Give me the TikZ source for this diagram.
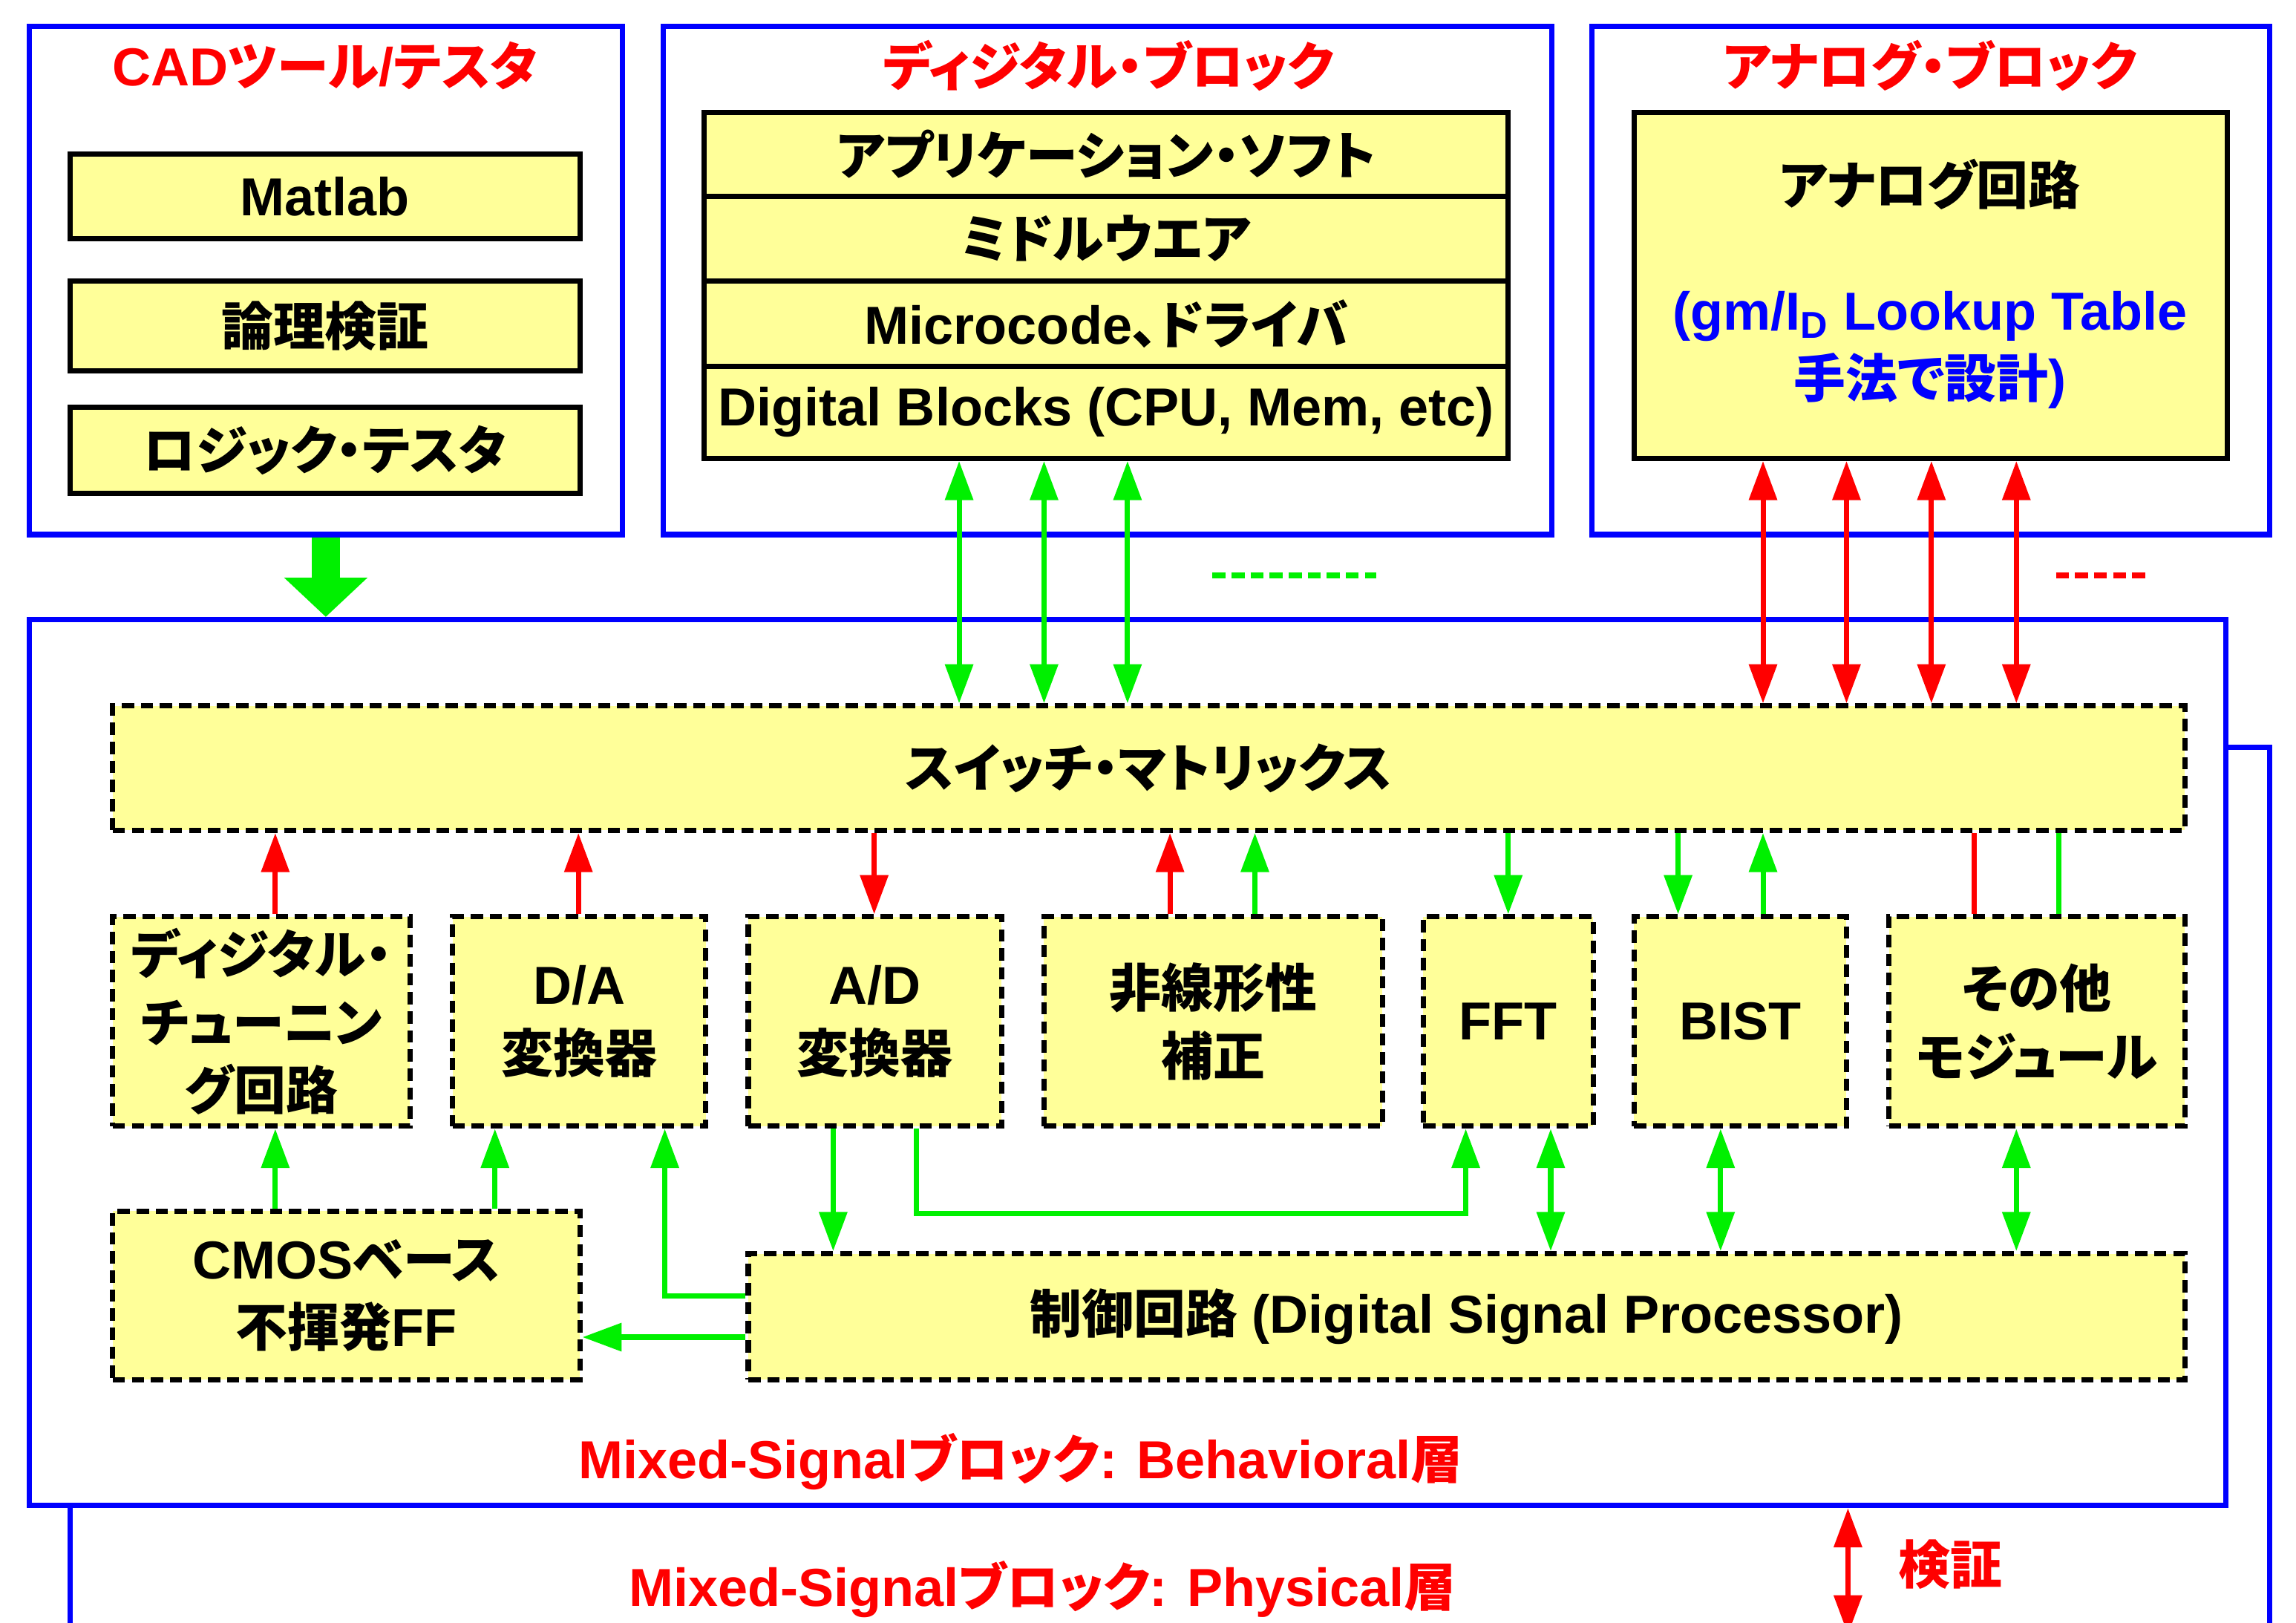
\documentclass[tikz,border=0pt]{standalone}
\usepackage{fontspec}
\setmainfont{Liberation Sans}
\newfontfamily\jp{Noto Sans CJK JP}[RawFeature=+palt,Scale=0.97]
\usetikzlibrary{arrows.meta}
\definecolor{yel}{RGB}{255,255,153}
\definecolor{bl}{RGB}{0,0,255}
\definecolor{rd}{RGB}{255,0,0}
\definecolor{gr}{RGB}{0,240,0}
\newcommand\J[1]{{\jp #1}}
% box from corner (x1,y1) to (x2,y2) in picture units
\newcommand\bx[7]{%
  \pgfmathsetmacro\bxcx{(#3+#5)/2}\pgfmathsetmacro\bxcy{(#4+#6)/2}%
  \pgfmathsetmacro\bxw{(#5-#3)*0.56126}\pgfmathsetmacro\bxh{(#6-#4)*0.56126}%
  \node[#1,minimum width=\bxw pt,minimum height=\bxh pt] (#2) at (\bxcx,\bxcy) {#7};}
\begin{document}
\begin{tikzpicture}[x=0.19726mm,y=-0.19726mm,
  font=\fontsize{20.5}{26}\selectfont\bfseries,
  blueframe/.style={draw=bl,line width=2pt,fill=white,inner sep=0pt},
  solidbox/.style={draw=black,line width=2pt,fill=yel,inner sep=0pt,align=center},
  dashbox/.style={draw=black,line width=2pt,dash pattern=on 4.7pt off 2.6pt,fill=yel,inner sep=0pt,align=center},
  title/.style={text=rd,inner sep=0pt},
  garr/.style={draw=gr,line width=2pt,-{Triangle[width=10.5pt,length=15pt]}},
  gdbl/.style={draw=gr,line width=2pt,{Triangle[width=10.5pt,length=15pt]}-{Triangle[width=10.5pt,length=15pt]}},
  rarr/.style={draw=rd,line width=2pt,-{Triangle[width=10.5pt,length=15pt]}},
  rdbl/.style={draw=rd,line width=2pt,{Triangle[width=10.5pt,length=15pt]}-{Triangle[width=10.5pt,length=15pt]}},
  gline/.style={draw=gr,line width=2pt},
  rline/.style={draw=rd,line width=2pt},
  bigarr/.style={draw=gr,line width=11pt,-{Triangle[width=31pt,length=15pt]}},
  dots/.style={line width=2.2pt,dash pattern=on 5pt off 2.3pt}
]
\useasboundingbox (0,0) rectangle (1568,1108);

% Mixed-signal layers
\bx{blueframe}{phys}{48}{510}{1550}{1160}{}
\bx{blueframe}{beh}{20}{423}{1520}{1028}{}
\node[title] (behl) at (697,998) {Mixed-Signal\J{ブロック}: Behavioral\J{層}};
\node[title] (physl) at (712,1085) {Mixed-Signal\J{ブロック}: Physical\J{層}};
\node[title] (kensho) at (1332,1068) {\J{検証}};
\coordinate (vend) at (1262,1116);
\draw[rdbl] (beh.south -| 1262,0) -- (vend);

% CAD tools
\bx{blueframe}{cad}{20}{18}{425}{365}{}
\node[title] (cadt) at (222,45) {CAD\J{ツール}/\J{テスタ}};
\bx{solidbox}{matlab}{48}{105}{396}{163}{Matlab}
\bx{solidbox}{ronri}{48}{192}{396}{253}{\J{論理検証}}
\bx{solidbox}{ltest}{48}{278}{396}{337}{\J{ロジック・テスタ}}
\draw[bigarr] (cad.south) -- (beh.north -| cad.south);

% Digital block
\bx{blueframe}{dig}{453}{18}{1060}{365}{}
\node[title] (digt) at (757,45) {\J{ディジタル・ブロック}};
\bx{solidbox}{app}{481}{77}{1030}{134}{\J{アプリケーション・ソフト}}
\bx{solidbox}{mid}{481}{134}{1030}{192}{\J{ミドルウエア}}
\bx{solidbox}{micro}{481}{192}{1030}{250}{Microcode\J{、ドライバ}}
\bx{solidbox}{dblk}{481}{250}{1030}{313}{Digital Blocks (CPU, Mem, etc)}

% Analog block
\bx{blueframe}{ana}{1087}{18}{1550}{365}{}
\node[title] (anat) at (1318,45) {\J{アナログ・ブロック}};
\bx{solidbox}{anc}{1116}{77}{1521}{313}{}
\node (anct) at (1318,126) {\J{アナログ回路}};
\node[text=bl,align=center] (ancb) at (1318,239) {(gm/I\textsubscript{D} Lookup Table\\\J{手法で設計})};

% dotted continuations
\coordinate (gd1) at (828,393); \coordinate (gd2) at (940,393);
\coordinate (rd1) at (1404,393); \coordinate (rd2) at (1465,393);
\draw[dots,gr] (gd1) -- (gd2);
\draw[dots,rd] (rd1) -- (rd2);

% switch matrix and modules
\bx{dashbox}{sw}{77}{482}{1492}{567}{\J{スイッチ・マトリックス}}
\bx{dashbox}{tune}{77}{626}{280}{769}{\J{ディジタル・}\\\J{チューニン}\\\J{グ回路}}
\bx{dashbox}{da}{309}{626}{482}{769}{D/A\\\J{変換器}}
\bx{dashbox}{ad}{511}{626}{684}{769}{A/D\\\J{変換器}}
\bx{dashbox}{nl}{713}{626}{944}{769}{\J{非線形性}\\\J{補正}}
\bx{dashbox}{fft}{972}{626}{1088}{769}{FFT}
\bx{dashbox}{bist}{1116}{626}{1261}{769}{BIST}
\bx{dashbox}{oth}{1290}{626}{1492}{769}{\J{その他}\\\J{モジュール}}
\bx{dashbox}{cmos}{77}{827}{396}{942}{CMOS\J{ベース}\\\J{不揮発}FF}
\bx{dashbox}{dsp}{511}{856}{1492}{942}{\J{制御回路} (Digital Signal Processor)}

% top connections
\foreach \x in {655,713,770} \draw[gdbl] (dblk.south -| \x,0) -- (sw.north -| \x,0);
\foreach \x in {1204,1261,1319,1377} \draw[rdbl] (anc.south -| \x,0) -- (sw.north -| \x,0);

% switch matrix <-> modules
\draw[rarr] (tune.north -| 188,0) -- (sw.south -| 188,0);
\draw[rarr] (da.north -| 395,0) -- (sw.south -| 395,0);
\draw[rarr] (sw.south -| 597,0) -- (ad.north -| 597,0);
\draw[rarr] (nl.north -| 799,0) -- (sw.south -| 799,0);
\draw[garr] (nl.north -| 857,0) -- (sw.south -| 857,0);
\draw[garr] (sw.south -| 1030,0) -- (fft.north -| 1030,0);
\draw[garr] (sw.south -| 1146,0) -- (bist.north -| 1146,0);
\draw[garr] (bist.north -| 1204,0) -- (sw.south -| 1204,0);
\draw[rline] (oth.north -| 1348,0) -- (sw.south -| 1348,0);
\draw[gline] (oth.north -| 1406,0) -- (sw.south -| 1406,0);

% lower connections
\draw[garr] (cmos.north -| 188,0) -- (tune.south -| 188,0);
\draw[garr] (cmos.north -| 338,0) -- (da.south -| 338,0);
\draw[garr] (dsp.west |- 0,885) -| (da.south -| 454,0);
\draw[garr] (dsp.west |- 0,913) -- (cmos.east |- 0,913);
\draw[garr] (ad.south -| 569,0) -- (dsp.north -| 569,0);
\draw[garr] (ad.south -| 626,0) -- ++(0,58) -| (fft.south -| 1001,0);
\draw[gdbl] (fft.south -| 1059,0) -- (dsp.north -| 1059,0);
\draw[gdbl] (bist.south -| 1175,0) -- (dsp.north -| 1175,0);
\draw[gdbl] (oth.south -| 1377,0) -- (dsp.north -| 1377,0);
\end{tikzpicture}
\end{document}
